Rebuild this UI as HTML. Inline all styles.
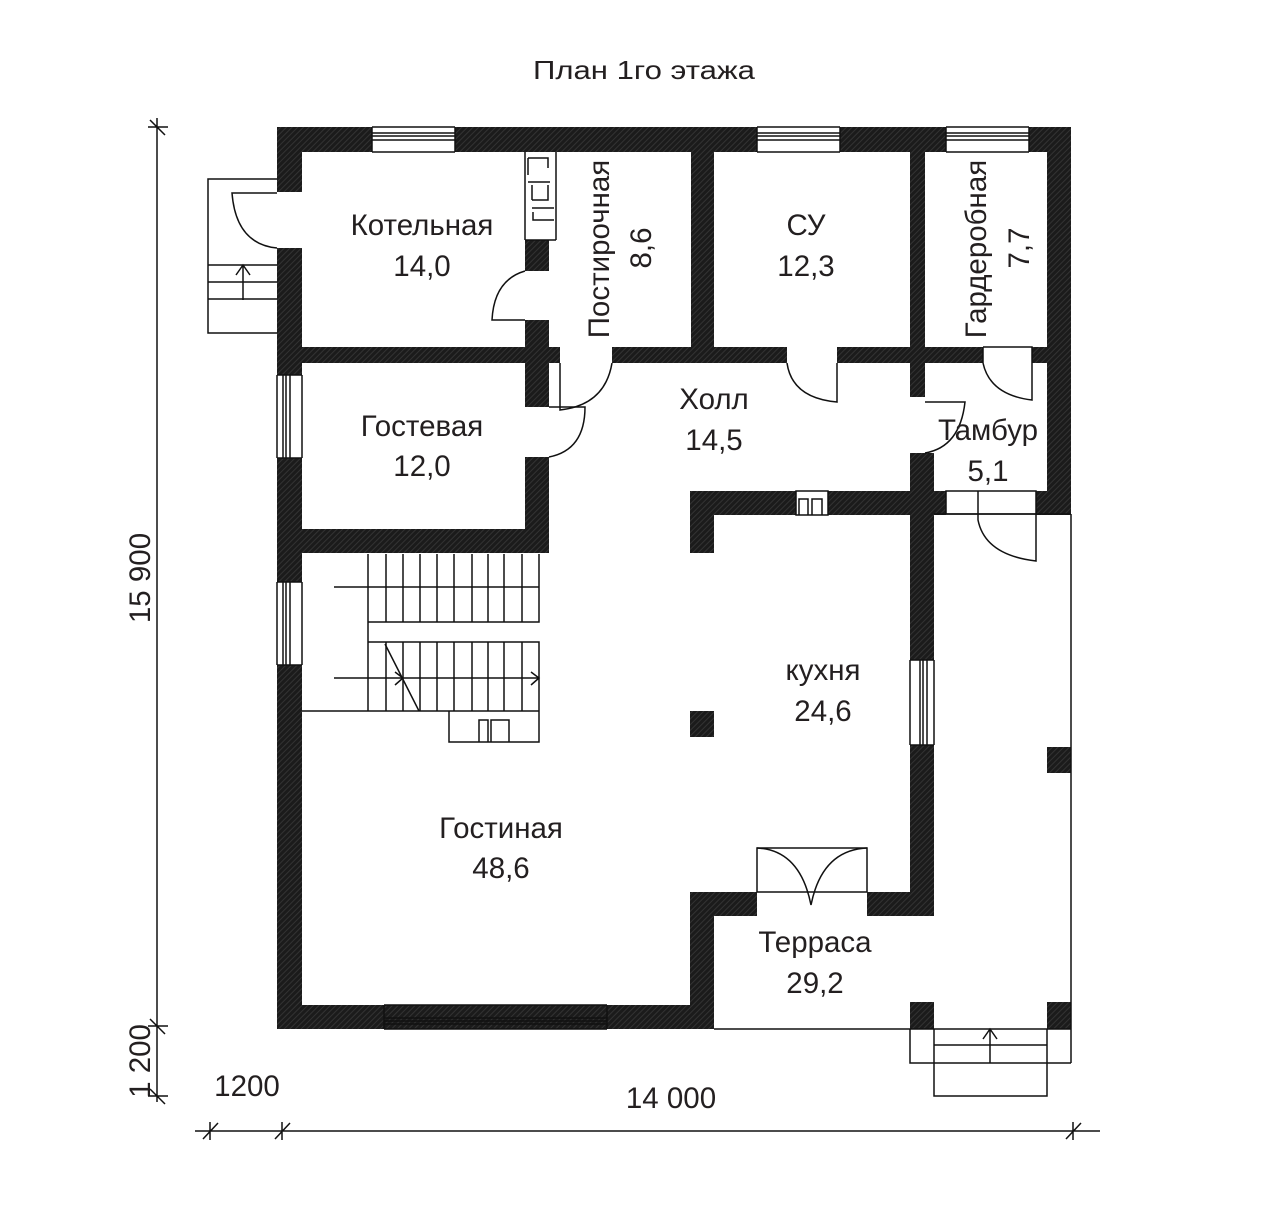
<!DOCTYPE html>
<html><head><meta charset="utf-8"><style>
html,body{margin:0;padding:0;background:#fff;}
svg{display:block;}
text{font-family:"Liberation Sans",sans-serif;fill:#231f20;}
</style></head><body>
<svg width="1280" height="1226" viewBox="0 0 1280 1226" xmlns="http://www.w3.org/2000/svg">
<defs>
<pattern id="h" width="4" height="4" patternUnits="userSpaceOnUse" patternTransform="rotate(45)">
<rect width="4" height="4" fill="#1b1b1b"/><rect width="1" height="4" fill="#333"/>
</pattern>
</defs>
<text x="644" y="79" font-size="26" text-anchor="middle" textLength="222" lengthAdjust="spacingAndGlyphs">План 1го этажа</text>

<g fill="url(#h)">
<rect x="277" y="127" width="794" height="25"/>
<rect x="277" y="127" width="25" height="65"/>
<rect x="277" y="248" width="25" height="127"/>
<rect x="277" y="458" width="25" height="124"/>
<rect x="277" y="665" width="25" height="364"/>
<rect x="277" y="1005" width="437" height="24"/>
<rect x="1047" y="127" width="24" height="388"/>
<rect x="525" y="240" width="24" height="31"/>
<rect x="525" y="320" width="24" height="43"/>
<rect x="277" y="347" width="283" height="16"/>
<rect x="612" y="347" width="175" height="16"/>
<rect x="837" y="347" width="146" height="16"/>
<rect x="1032" y="347" width="39" height="16"/>
<rect x="525" y="363" width="24" height="44"/>
<rect x="525" y="457" width="24" height="96"/>
<rect x="277" y="529" width="272" height="24"/>
<rect x="691" y="152" width="23" height="195"/>
<rect x="910" y="152" width="15" height="245"/>
<rect x="910" y="453" width="24" height="38"/>
<rect x="690" y="491" width="106" height="24"/>
<rect x="828" y="491" width="118" height="24"/>
<rect x="1036" y="491" width="35" height="24"/>
<rect x="690" y="491" width="24" height="62"/>
<rect x="910" y="491" width="24" height="169"/>
<rect x="910" y="745" width="24" height="171"/>
<rect x="867" y="892" width="67" height="24"/>
<rect x="690" y="892" width="67" height="24"/>
<rect x="690" y="892" width="24" height="137"/>
<rect x="690" y="711" width="24" height="26"/>
<rect x="1047" y="747" width="24" height="26"/>
<rect x="910" y="1002" width="24" height="27"/>
<rect x="1047" y="1002" width="24" height="27"/>
</g>

<g fill="none" stroke="#111" stroke-width="1.5">
<rect x="372" y="127" width="83" height="25" fill="#fff" stroke="none"/>
<path d="M372 127H455M372 133H455M372 136H455M372 140H455M372 152H455M372 127V152M455 127V152"/>
<rect x="757" y="127" width="83" height="25" fill="#fff" stroke="none"/>
<path d="M757 127H840M757 133H840M757 136H840M757 140H840M757 152H840M757 127V152M840 127V152"/>
<rect x="946" y="127" width="83" height="25" fill="#fff" stroke="none"/>
<path d="M946 127H1029M946 133H1029M946 136H1029M946 140H1029M946 152H1029M946 127V152M1029 127V152"/>
<path d="M277 375V458M283 375V458M286 375V458M290 375V458M302 375V458M277 375H302M277 458H302"/>
<path d="M277 582V665M283 582V665M286 582V665M290 582V665M302 582V665M277 582H302M277 665H302"/>
<path d="M910 660V745M920 660V745M923 660V745M927 660V745M934 660V745M910 660H934M910 745H934"/>
<path d="M384 1005H607M384 1018H607M384 1021H607M384 1024H607M384 1029H607M384 1005V1029M607 1005V1029"/>

<path d="M277 179H208V333H277M208 265H277M208 282H277M208 299H277M243 300V265M236 275L243 265L250 275"/>
<path d="M277 193H232Q236 244 277 248"/>
<path d="M525 152V240M525 240H556M556 152V240M528 158H548V168M528 158V175M528 182H550M532 185V200M532 200H548V185M532 208H554M533 212V220H554"/>
<path d="M525 271Q494 280 492 320H525"/>
<path d="M560 363V410Q605 405 612 363"/>
<path d="M549 407H585Q585 450 549 457"/>
<path d="M787 363Q792 398 837 402V363"/>
<path d="M983 347H1032V400Q990 395 983 363M983 347V363"/>
<path d="M925 402H965Q960 447 925 453"/>
<rect x="796" y="491" width="32" height="24" fill="#fff"/>
<path d="M799 515V499H808V515M812 515V499H822V515"/>
<rect x="946" y="491" width="90" height="23" fill="#fff"/>
<path d="M934 514H1071M978 491V520Q985 555 1036 561V514"/>
<path d="M1071 514V1063M714 1029H1071"/>
<path d="M910 1029V1063H1071M934 1029V1096H1047V1029M934 1045H1047M990 1063V1029M983 1039L990 1029L997 1039"/>
<rect x="757" y="848" width="110" height="44" fill="#fff"/>
<path d="M757 848Q800 850 811 905Q822 850 867 848"/>
<path d="M368 554V622H539V554M368 587H539M334 587H368V678M334 678H368M368 642H539V711H368V642M368 678H539M302 711H368M385 644L419 711M395 672L403 678L395 685M531 672L539 678L531 685M449 711V742H539V711M479 742V720H488V742M491 742V720H509V742"/>
<path d="M386 554V622M403 554V622M420 554V622M437 554V622M454 554V622M472 554V622M488 554V622M504 554V622M522 554V622"/>
<path d="M386 642V711M403 642V711M420 642V711M437 642V711M454 642V711M472 642V711M488 642V711M504 642V711M522 642V711"/>
<path d="M157 118V1102M148 127H168M150 120L165 135M148 1026H168M150 1019L165 1034M148 1096H168M150 1089L165 1104"/>
<path d="M195 1131H1100M210 1122V1140M203 1139L218 1123M282 1122V1140M275 1139L290 1123M1073 1122V1140M1066 1139L1081 1123"/>
</g>

<g font-size="29.5" text-anchor="middle">
<text x="422" y="235">Котельная</text><text x="422" y="276">14,0</text>
<text x="422" y="436">Гостевая</text><text x="422" y="476">12,0</text>
<text x="806" y="235">СУ</text><text x="806" y="276">12,3</text>
<text x="714" y="409">Холл</text><text x="714" y="450">14,5</text>
<text x="988" y="440">Тамбур</text><text x="988" y="481">5,1</text>
<text x="823" y="680">кухня</text><text x="823" y="721">24,6</text>
<text x="501" y="838">Гостиная</text><text x="501" y="878">48,6</text>
<text x="815" y="952">Терраса</text><text x="815" y="993">29,2</text>
<text transform="translate(609 249) rotate(-90)">Постирочная</text>
<text transform="translate(651 248) rotate(-90)">8,6</text>
<text transform="translate(986 249) rotate(-90)">Гардеробная</text>
<text transform="translate(1029 248) rotate(-90)">7,7</text>
<text transform="translate(150 578) rotate(-90)">15 900</text>
<text transform="translate(150 1061) rotate(-90)">1 200</text>
<text x="247" y="1096">1200</text>
<text x="671" y="1108">14 000</text>
</g>
</svg>
</body></html>
